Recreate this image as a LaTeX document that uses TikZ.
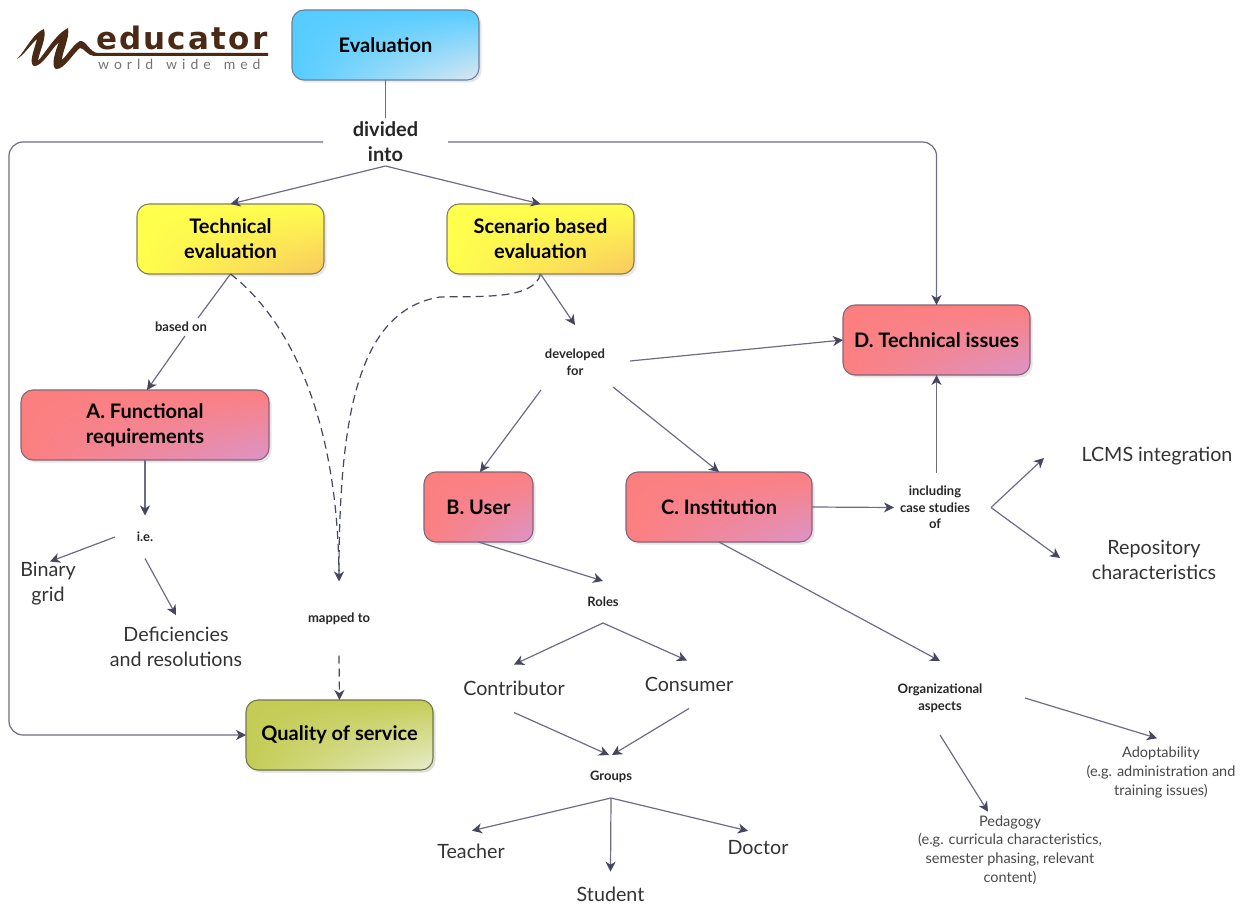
\documentclass[tikz,border=0pt]{standalone}
\usepackage{fontspec}
\setmainfont{Lato}
\newfontfamily\logofont{DejaVu Sans}
\usetikzlibrary{arrows.meta,shadings,shadows,calc}
\definecolor{lnc}{HTML}{6C6C84}
\definecolor{hdc}{HTML}{45465F}
\definecolor{logoc}{HTML}{4A2A14}
\tikzset{
  x=1pt,y=-1pt,
  px/.style={inner sep=0pt,outer sep=0pt,align=center},
  cbox/.style n args={6}{px,rectangle,rounded corners=12pt,minimum width=#1pt,minimum height=#2pt,
     shading=bilinear interpolation,upper left=#3,upper right=#3,lower left=#3,lower right=#4,
     draw=#5,line width=1.1pt,font=\fontsize{20}{25}\selectfont\bfseries,text=black,
     drop shadow={shadow xshift=2.5pt,shadow yshift=-2.5pt,fill=#6,opacity=.45}},
  lab/.style 2 args={px,minimum width=#1pt,minimum height=#2pt,font=\fontsize{13}{16.5}\selectfont\bfseries,text=black!85},
  txt/.style={px,font=\fontsize{19.7}{25}\selectfont,text=black!80},
  txts/.style={px,font=\fontsize{14.5}{18.6}\selectfont,text=black!72},
  conn/.style={draw=lnc,line width=1.2pt,-{Stealth[length=10pt,width=10pt,inset=3pt,fill=hdc,color=hdc]}},
  plain/.style={draw=lnc,line width=1.2pt},
  dsh/.style={draw=hdc,line width=1.2pt,dash pattern=on 8pt off 5pt},
  dshend/.style={dsh,-{Stealth[length=10pt,width=10pt,inset=3pt,fill=hdc,color=hdc]}},
}
\definecolor{blA}{HTML}{55CCFF}\definecolor{blB}{HTML}{DCE8F2}\definecolor{blD}{HTML}{6C809C}
\definecolor{yeA}{HTML}{FFFF4D}\definecolor{yeB}{HTML}{F8C860}\definecolor{yeD}{HTML}{85805A}
\definecolor{reA}{HTML}{FC7F7F}\definecolor{reB}{HTML}{DC94C8}\definecolor{reD}{HTML}{836478}
\definecolor{grA}{HTML}{C4CC55}\definecolor{grB}{HTML}{E8EDCC}\definecolor{grD}{HTML}{72754E}
\begin{document}
\begin{tikzpicture}
\useasboundingbox (0,0) rectangle (1247,904);
% logo
\fill[logoc] (17,59) .. controls (26,50) and (33,33) .. (44,29)
  .. controls (47,38) and (39,52) .. (38,61)
  .. controls (46,52) and (56,34) .. (68,28)
  .. controls (70,38) and (62,52) .. (62,60)
  .. controls (68,54) and (74,44) .. (80,41)
  .. controls (86,40) and (90,53) .. (98,53)
  -- (268,53) -- (268,56) -- (94,56)
  .. controls (88,56) and (84,48) .. (80,48)
  .. controls (74,52) and (64,70) .. (56,69)
  .. controls (50,66) and (56,50) .. (59,42)
  .. controls (52,48) and (42,67) .. (34,66)
  .. controls (28,63) and (35,48) .. (37,39)
  .. controls (31,44) and (24,55) .. (17,59) -- cycle;
\node[px,font=\logofont\fontsize{31}{31}\selectfont\bfseries,text=logoc,anchor=base west] (logoa) at (96,50) {e\kern2.2ptd\kern2.2ptu\kern2.2ptc\kern2.2pta\kern2.2ptt\kern2.2pto\kern2.2ptr};
\node[px,font=\fontsize{14}{14}\selectfont,text=black!55,anchor=base west] (logob) at (98,70) {w\kern5pto\kern5ptr\kern5ptl\kern5ptd\kern13ptw\kern5pti\kern5ptd\kern5pte\kern13ptm\kern5pte\kern5ptd};
% boxes
\node[cbox={187}{70}{blA}{blB}{blD}{blD!40}] (eval) at (385.5,45) {Evaluation};
\node[cbox={187}{70}{yeA}{yeB}{yeD}{yeD!40}] (tech) at (230.5,239) {Technical\\evaluation};
\node[cbox={187}{70}{yeA}{yeB}{yeD}{yeD!40}] (scen) at (540.5,239) {Scenario based\\evaluation};
\node[cbox={248}{70}{reA}{reB}{reD}{reD!40}] (funcreq) at (145,425) {A. Functional\\requirements};
\node[cbox={109}{70}{reA}{reB}{reD}{reD!40}] (user) at (478.5,507) {B. User};
\node[cbox={186}{70}{reA}{reB}{reD}{reD!40}] (inst) at (719,507) {C. Institution};
\node[cbox={187}{70}{reA}{reB}{reD}{reD!40}] (techiss) at (936.5,340) {D. Technical issues};
\node[cbox={187}{70}{grA}{grB}{grD}{grD!50}] (qos) at (339.5,735) {Quality of service};
% labels
\node[lab={125}{48},font=\fontsize{20}{25}\selectfont\bfseries] (divided) at (385.5,142) {divided\\into};
\node[lab={60}{18}] (based) at (181,327) {based on};
\node[lab={72}{74}] (dev) at (575,362) {developed\\for};
\node[lab={60}{43}] (ie) at (145,537) {i.e.};
\node[lab={80}{74}] (mapped) at (339,618.5) {mapped to};
\node[lab={50}{42}] (roles) at (603,602) {Roles};
\node[lab={50}{43}] (groups) at (611,776.5) {Groups};
\node[lab={82}{70}] (incl) at (935,507.5) {including\\case studies\\of};
\node[lab={100}{74}] (org) at (940,698) {Organizational\\aspects};
% text
\node[txt] (binary) at (48,584) {Binary\\grid};
\node[txt] (defic) at (176,647) {Deficiencies\\and resolutions};
\node[txt,minimum height=48pt] (contrib) at (514,688.5) {Contributor};
\node[txt,minimum height=48pt] (consum) at (689,684.5) {Consumer};
\node[txt] (teacher) at (471,851) {Teacher};
\node[txt] (student) at (610.5,894) {Student};
\node[txt] (doctor) at (758,848) {Doctor};
\node[txt] (lcms) at (1157,456.5) {LCMS integration};
\node[txt] (repo) at (1154,559.5) {Repository\\characteristics};
\node[txts] (adopt) at (1161,772.5) {Adoptability\\(e.g. administration and\\training issues)};
\node[txts] (pedag) at (1010,850) {Pedagogy\\(e.g. curricula characteristics,\\semester phasing, relevant\\content)};
% connectors
\draw[plain] (eval.south) -- (divided.north);
\draw[conn] (divided.south) -- (tech.north);
\draw[conn] (divided.south) -- (scen.north);
\draw[conn,rounded corners=14pt] (divided.west) -- (9,142) -- (9,735) -- (qos.west);
\draw[conn,rounded corners=14pt] (divided.east) -- (936.5,142) -- (techiss.north);
\draw[plain] (tech.south) -- ([xshift=17pt]based.north);
\draw[conn] ([xshift=4pt]based.south) -- ([xshift=2pt]funcreq.north);
\draw[conn] (funcreq.south) -- (ie.north);
\draw[conn] ([xshift=-30pt]ie.center) -- ([shift={(2pt,1pt)}]binary.north);
\draw[conn] (ie.south) -- ([shift={(0pt,12pt)}]defic.north);
\draw[dsh] (tech.south) .. controls (290,320) and (339,420) .. (mapped.north);
\draw[dshend] (scen.south) .. controls (534,300) and (480,296) .. (440,297) .. controls (360,310) and (339,410) .. (mapped.north);
\draw[dshend] (mapped.south) -- (qos.north);
\draw[conn] (scen.south) -- (dev.north);
\draw[conn] ([xshift=19pt,yshift=1pt]dev.east) -- (techiss.west);
\draw[conn] ([xshift=-34pt,yshift=9pt]dev.south) -- ([xshift=1.5pt]user.north);
\draw[conn] ([xshift=38pt,yshift=12pt]dev.south) -- (inst.north);
\draw[conn] (user.south) -- (roles.north);
\draw[conn] (roles.south) -- (contrib.north);
\draw[conn] (roles.south) -- ([xshift=-2pt]consum.north);
\draw[conn] (contrib.south) -- ([xshift=-2pt]groups.north);
\draw[conn] (consum.south) -- ([xshift=1pt]groups.north);
\draw[conn] (groups.south) -- ([shift={(1pt,13pt)}]teacher.north);
\draw[conn] (groups.south) -- ([yshift=15pt]student.north);
\draw[conn] (groups.south) -- ([shift={(-10pt,10pt)}]doctor.north);
\draw[conn] (inst.east) -- (incl.west);
\draw[conn] ([xshift=1.5pt]incl.north) -- (techiss.south);
\draw[conn] ([xshift=15pt]incl.east) -- ([shift={(-113pt,-1.5pt)}]lcms.center);
\draw[conn] ([xshift=15pt]incl.east) -- ([shift={(-94pt,1.5pt)}]repo.center);
\draw[conn] (inst.south) -- (org.north);
\draw[conn] ([xshift=85pt]org.center) -- ([shift={(-4pt,9pt)}]adopt.north);
\draw[conn] (org.south) -- ([shift={(-22pt,4pt)}]pedag.north);
\end{tikzpicture}
\end{document}
